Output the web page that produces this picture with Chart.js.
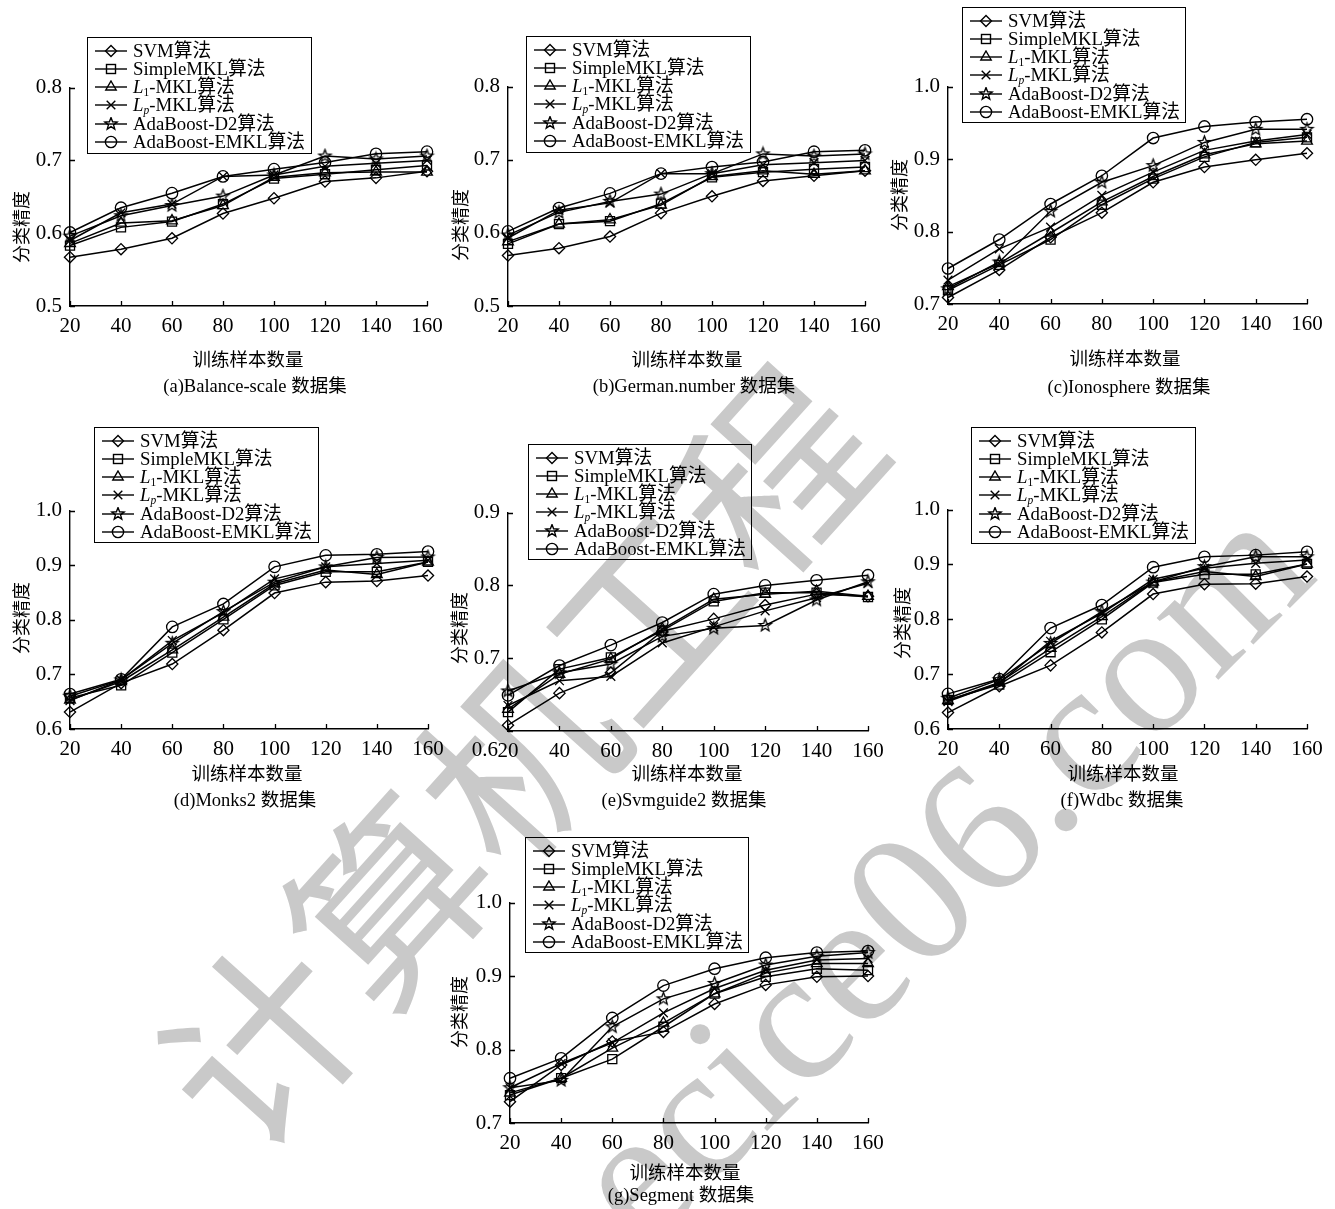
<!DOCTYPE html>
<html>
<head>
<meta charset="utf-8">
<title>分类精度对比</title>
<script src="https://cdn.jsdelivr.net/npm/chart.js@4.4.1/dist/chart.umd.min.js"></script>
<style>
    body { margin: 0; background: #fff; }
    #page { position: relative; width: 1335px; height: 1209px; overflow: hidden; color: #000;
            font-family: "Liberation Serif", "Noto Sans CJK SC", serif; }
    #watermark { position: absolute; left: 0; top: 0; z-index: 0; }
    .chart-canvas { position: absolute; z-index: 1; }
    .legend { position: absolute; border: 1.3px solid #000; box-sizing: border-box; z-index: 2; font-size: 18.8px; }
    .legend-row { position: absolute; left: 0; height: 18px; line-height: 18px; white-space: nowrap; }
    .legend-row svg { position: absolute; left: 7px; top: 2px; }
    .legend-row span { position: absolute; left: 45px; top: 0; }
    .legend sub { font-size: 11.5px; vertical-align: -3px; line-height: 0; }
    .label { position: absolute; white-space: nowrap; transform: translate(-50%, -50%); z-index: 2; line-height: 1; }
    .x-title { font-family: "Noto Sans CJK SC", sans-serif; font-size: 18.5px; }
    .y-title { font-family: "Noto Sans CJK SC", sans-serif; font-size: 18px; transform: translate(-50%, -50%) rotate(-90deg); }
    .caption { font-size: 18.5px; }
    .tick-extra { font-size: 21px; transform: translate(-100%, -50%); }
</style>
</head>
<body>
<div id="page"><canvas id="watermark" width="1335" height="1209"></canvas></div>
<script>
// ---- data ----
const trainSizes = [20, 40, 60, 80, 100, 120, 140, 160];
const seriesNames = ['SVM算法', 'SimpleMKL算法', 'L1-MKL算法', 'Lp-MKL算法', 'AdaBoost-D2算法', 'AdaBoost-EMKL算法'];

// rows: SVM, SimpleMKL, L1-MKL, Lp-MKL, AdaBoost-D2, AdaBoost-EMKL
const balanceScale = [
    [0.567, 0.578, 0.593, 0.627, 0.648, 0.671, 0.676, 0.685],
    [0.583, 0.608, 0.616, 0.640, 0.675, 0.681, 0.687, 0.693],
    [0.586, 0.614, 0.617, 0.638, 0.677, 0.683, 0.684, 0.684],
    [0.590, 0.628, 0.640, 0.678, 0.680, 0.692, 0.696, 0.700],
    [0.596, 0.624, 0.638, 0.651, 0.680, 0.706, 0.702, 0.706],
    [0.601, 0.635, 0.655, 0.678, 0.688, 0.697, 0.709, 0.712],
];
const germanNumber = [
    [0.569, 0.579, 0.595, 0.627, 0.650, 0.671, 0.678, 0.685],
    [0.585, 0.612, 0.616, 0.640, 0.676, 0.683, 0.687, 0.690],
    [0.588, 0.612, 0.618, 0.638, 0.677, 0.685, 0.680, 0.685],
    [0.593, 0.631, 0.641, 0.681, 0.681, 0.693, 0.696, 0.699],
    [0.597, 0.628, 0.643, 0.653, 0.681, 0.708, 0.705, 0.708],
    [0.602, 0.634, 0.654, 0.681, 0.690, 0.697, 0.711, 0.713],
];
const ionosphere = [
    [0.709, 0.747, 0.792, 0.826, 0.868, 0.889, 0.899, 0.908],
    [0.719, 0.754, 0.789, 0.837, 0.873, 0.903, 0.923, 0.930],
    [0.724, 0.756, 0.798, 0.841, 0.876, 0.906, 0.921, 0.925],
    [0.733, 0.776, 0.806, 0.850, 0.882, 0.912, 0.925, 0.934],
    [0.721, 0.758, 0.828, 0.868, 0.891, 0.923, 0.941, 0.941],
    [0.749, 0.789, 0.838, 0.877, 0.929, 0.945, 0.951, 0.955],
];
const monks2 = [
    [0.631, 0.684, 0.719, 0.781, 0.849, 0.869, 0.871, 0.881],
    [0.657, 0.680, 0.740, 0.801, 0.863, 0.888, 0.888, 0.906],
    [0.653, 0.687, 0.745, 0.805, 0.866, 0.891, 0.883, 0.906],
    [0.652, 0.690, 0.762, 0.813, 0.875, 0.897, 0.903, 0.909],
    [0.660, 0.690, 0.757, 0.815, 0.869, 0.897, 0.914, 0.915],
    [0.664, 0.691, 0.787, 0.829, 0.897, 0.918, 0.920, 0.925],
];
const svmguide2 = [
    [0.608, 0.652, 0.680, 0.737, 0.754, 0.773, 0.788, 0.785],
    [0.626, 0.685, 0.701, 0.738, 0.778, 0.790, 0.790, 0.784],
    [0.630, 0.678, 0.699, 0.740, 0.781, 0.788, 0.792, 0.785],
    [0.635, 0.669, 0.675, 0.721, 0.743, 0.765, 0.783, 0.803],
    [0.655, 0.680, 0.692, 0.730, 0.741, 0.745, 0.780, 0.805],
    [0.649, 0.690, 0.718, 0.749, 0.788, 0.800, 0.807, 0.814],
];
const wdbc = [
    [0.630, 0.678, 0.716, 0.776, 0.846, 0.864, 0.865, 0.878],
    [0.653, 0.681, 0.740, 0.800, 0.867, 0.882, 0.882, 0.901],
    [0.652, 0.685, 0.747, 0.805, 0.868, 0.887, 0.878, 0.901],
    [0.650, 0.684, 0.760, 0.811, 0.873, 0.893, 0.902, 0.908],
    [0.656, 0.690, 0.756, 0.814, 0.868, 0.896, 0.914, 0.914],
    [0.664, 0.691, 0.784, 0.826, 0.895, 0.914, 0.917, 0.923],
];
const segment = [
    [0.729, 0.779, 0.811, 0.824, 0.862, 0.888, 0.899, 0.900],
    [0.738, 0.761, 0.787, 0.831, 0.876, 0.899, 0.910, 0.908],
    [0.741, 0.761, 0.802, 0.836, 0.876, 0.904, 0.917, 0.917],
    [0.748, 0.781, 0.809, 0.850, 0.883, 0.908, 0.922, 0.924],
    [0.748, 0.758, 0.831, 0.869, 0.890, 0.915, 0.927, 0.932],
    [0.761, 0.788, 0.843, 0.887, 0.910, 0.925, 0.932, 0.934],
];

const ticksLow = [0.5, 0.6, 0.7, 0.8];
const ticksHigh = [0.7, 0.8, 0.9, 1.0];
const ticksWide = [0.6, 0.7, 0.8, 0.9, 1.0];
const ticksMid = [0.6, 0.7, 0.8, 0.9];

const captions = ['(a)Balance-scale 数据集', '(b)German.number 数据集', '(c)Ionosphere 数据集',
    '(d)Monks2 数据集', '(e)Svmguide2 数据集', '(f)Wdbc 数据集', '(g)Segment 数据集'];
const xTitle = '训练样本数量';
const yTitle = '分类精度';
const watermarkCn = '计算机工程';
const watermarkEn = 'ecice06.com';

// ---- layout (plot area, legend box, text centres) ----
const panels = [
    { values: balanceScale, yTicks: ticksLow, plot: [70, 427, 87, 306], legend: [87, 37, 225, 117], xt: [248, 358], yt: [20, 227], cap: [255, 386] },
    { values: germanNumber, yTicks: ticksLow, plot: [508, 865, 86, 306], legend: [526, 36, 225, 117], xt: [687, 358], yt: [459, 225], cap: [694, 386] },
    { values: ionosphere, yTicks: ticksHigh, plot: [948, 1307, 86, 304], legend: [962, 7, 224, 116], xt: [1125, 357], yt: [898, 195], cap: [1129, 387] },
    { values: monks2, yTicks: ticksWide, plot: [70, 428, 510, 729], legend: [94, 427, 225, 116], xt: [247, 772], yt: [20, 618], cap: [245, 800] },
    // the bottom "0.6" label of (e) sits on the x-label row in the original
    { values: svmguide2, yTicks: ticksMid, plot: [508, 868, 512, 731], legend: [528, 444, 224, 116], xt: [687, 772], yt: [458, 628], cap: [684, 800], dropLow: [498, 749] },
    { values: wdbc, yTicks: ticksWide, plot: [948, 1307, 509, 729], legend: [971, 427, 225, 117], xt: [1123, 772], yt: [901, 623], cap: [1122, 800] },
    { values: segment, yTicks: ticksHigh, plot: [510, 868, 902, 1123], legend: [525, 837, 224, 116], xt: [685, 1171], yt: [458, 1012], cap: [681, 1195] },
];

const page = document.getElementById('page');

// watermark (grey text behind the charts)
function drawWatermark() {
    const g = document.getElementById('watermark').getContext('2d');
    g.fillStyle = '#c9c9c9';
    g.save();
    g.translate(518, 758);
    g.rotate(-48 * Math.PI / 180);
    g.font = '192px "Noto Sans CJK SC", sans-serif';
    g.textAlign = 'center';
    g.textBaseline = 'middle';
    g.fillText(watermarkCn, 0, 0);
    g.restore();

    g.save();
    g.translate(645, 1253);
    g.rotate(-45 * Math.PI / 180);
    g.font = '190px "Liberation Serif", serif';
    g.textAlign = 'left';
    g.textBaseline = 'alphabetic';
    g.fillText(watermarkEn, 0, 0);
    g.restore();
}
drawWatermark();

// ---- markers ----
function makeStar(r) {
    const size = Math.ceil(r * 2 + 4);
    const c = document.createElement('canvas');
    c.width = size;
    c.height = size;
    const g = c.getContext('2d');
    g.strokeStyle = '#000';
    g.lineWidth = 1.3;
    g.beginPath();
    for (let i = 0; i < 10; i++) {
        const a = -Math.PI / 2 + i * Math.PI / 5;
        const rr = i % 2 ? r * 0.42 : r;
        g.lineTo(size / 2 + rr * Math.cos(a), size / 2 + rr * Math.sin(a));
    }
    g.closePath();
    g.stroke();
    return c;
}
const starImage = makeStar(6.4);
const pointStyles = ['rectRot', 'rect', 'triangle', 'crossRot', starImage, 'circle'];
const pointSizes = [5.6, 6.4, 6.2, 6.2, 6.4, 5.7];

function markerSvg(i) {
    const c = 16, m = 7;
    let shape = '';
    if (i === 0) shape = `<polygon points="${c - 5.5},${m} ${c},${m - 5.5} ${c + 5.5},${m} ${c},${m + 5.5}"/>`;
    if (i === 1) shape = `<rect x="${c - 4.5}" y="${m - 4.5}" width="9" height="9"/>`;
    if (i === 2) shape = `<polygon points="${c},${m - 6} ${c + 5.2},${m + 3} ${c - 5.2},${m + 3}"/>`;
    if (i === 3) shape = `<path d="M${c - 4.3} ${m - 4.3}L${c + 4.3} ${m + 4.3}M${c - 4.3} ${m + 4.3}L${c + 4.3} ${m - 4.3}"/>`;
    if (i === 4) {
        const pts = [];
        for (let k = 0; k < 10; k++) {
            const a = -Math.PI / 2 + k * Math.PI / 5;
            const rr = k % 2 ? 2.7 : 6.4;
            pts.push((c + rr * Math.cos(a)).toFixed(2) + ',' + (m + rr * Math.sin(a)).toFixed(2));
        }
        shape = `<polygon points="${pts.join(' ')}"/>`;
    }
    if (i === 5) shape = `<circle cx="${c}" cy="${m}" r="5.6"/>`;
    return `<svg width="34" height="14" viewBox="0 0 34 14"><g fill="none" stroke="#000" stroke-width="1.4">` +
        `<line x1="0" y1="${m}" x2="32" y2="${m}"/>${shape}</g></svg>`;
}

function legendLabel(name) {
    return name.replace('L1', '<i>L</i><sub>1</sub>').replace('Lp', '<i>L</i><sub><i>p</i></sub>');
}

// inward tick marks on both axes
const inwardTicks = {
    id: 'inwardTicks',
    afterDraw(chart) {
        const { ctx, chartArea, scales } = chart;
        ctx.save();
        ctx.strokeStyle = '#000';
        ctx.lineWidth = 1.3;
        ctx.beginPath();
        scales.x.ticks.forEach((t) => {
            const px = Math.round(scales.x.getPixelForValue(t.value)) + 0.5;
            ctx.moveTo(px, chartArea.bottom);
            ctx.lineTo(px, chartArea.bottom - 5);
        });
        scales.y.ticks.forEach((t) => {
            const py = Math.round(scales.y.getPixelForValue(t.value)) + 0.5;
            ctx.moveTo(chartArea.left, py);
            ctx.lineTo(chartArea.left + 5, py);
        });
        ctx.stroke();
        ctx.restore();
    }
};

function addLabel(cls, text, pos) {
    const el = document.createElement('div');
    el.className = 'label ' + cls;
    el.textContent = text;
    el.style.left = pos[0] + 'px';
    el.style.top = pos[1] + 'px';
    page.appendChild(el);
}

function buildPanel(panel, index) {
    const [left, right, top, bottom] = panel.plot;
    const padTop = 12, padRight = 22, yWidth = 70, xHeight = 34;
    const width = right - left + yWidth + padRight;
    const height = bottom - top + padTop + xHeight;

    const canvas = document.createElement('canvas');
    canvas.className = 'chart-canvas';
    canvas.width = width;
    canvas.height = height;
    canvas.style.width = width + 'px';
    canvas.style.height = height + 'px';
    canvas.style.left = (left - yWidth) + 'px';
    canvas.style.top = (top - padTop) + 'px';
    page.appendChild(canvas);

    const yTicks = panel.yTicks;
    const tickFont = { family: '"Liberation Serif", serif', size: 21 };

    new Chart(canvas.getContext('2d'), {
        type: 'line',
        data: {
            datasets: seriesNames.map((name, s) => ({
                label: name,
                data: trainSizes.map((x, k) => ({ x: x, y: panel.values[s][k] })),
                borderColor: '#000',
                borderWidth: 1.5,
                tension: 0,
                fill: false,
                clip: false,
                pointStyle: pointStyles[s],
                pointRadius: pointSizes[s],
                pointBorderWidth: 1.3,
                pointBorderColor: '#000',
                pointBackgroundColor: 'rgba(0,0,0,0)',
            }))
        },
        options: {
            responsive: false,
            animation: false,
            devicePixelRatio: 1,
            layout: { padding: { top: padTop, right: padRight, left: 0, bottom: 0 } },
            plugins: { legend: { display: false }, tooltip: { enabled: false } },
            scales: {
                x: {
                    type: 'linear',
                    min: trainSizes[0],
                    max: trainSizes[trainSizes.length - 1],
                    afterBuildTicks: (scale) => { scale.ticks = trainSizes.map((v) => ({ value: v })); },
                    afterFit: (scale) => { scale.height = xHeight; },
                    grid: { display: false },
                    border: { display: true, color: '#000', width: 1.4 },
                    ticks: { color: '#000', font: tickFont, padding: 0, maxRotation: 0, autoSkip: false,
                             callback: (v) => String(v) }
                },
                y: {
                    min: yTicks[0],
                    max: yTicks[yTicks.length - 1],
                    afterBuildTicks: (scale) => { scale.ticks = yTicks.map((v) => ({ value: v })); },
                    afterFit: (scale) => { scale.width = yWidth; },
                    grid: { display: false },
                    border: { display: true, color: '#000', width: 1.4 },
                    ticks: { color: '#000', font: tickFont, padding: 0, autoSkip: false,
                             callback: (v) => (panel.dropLow && v === yTicks[0]) ? '' : Number(v).toFixed(1) }
                }
            }
        },
        plugins: [inwardTicks]
    });

    if (panel.dropLow) addLabel('tick-extra', yTicks[0].toFixed(1), panel.dropLow);

    // legend box
    const [lx, ly, lw, lh] = panel.legend;
    const box = document.createElement('div');
    box.className = 'legend';
    box.style.left = lx + 'px';
    box.style.top = ly + 'px';
    box.style.width = lw + 'px';
    box.style.height = lh + 'px';
    seriesNames.forEach((name, s) => {
        const row = document.createElement('div');
        row.className = 'legend-row';
        row.style.top = (3.8 + 18.2 * s) + 'px';
        row.innerHTML = markerSvg(s) + '<span>' + legendLabel(name) + '</span>';
        box.appendChild(row);
    });
    page.appendChild(box);

    addLabel('x-title', xTitle, panel.xt);
    addLabel('y-title', yTitle, panel.yt);
    addLabel('caption', captions[index], panel.cap);
}

panels.forEach(buildPanel);
</script>
</body>
</html>
